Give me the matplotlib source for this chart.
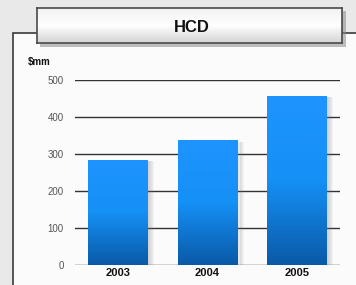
import matplotlib.pyplot as plt
import numpy as np
from matplotlib.patches import Rectangle
from matplotlib.colors import LinearSegmentedColormap

plt.rcParams["font.family"] = ["Liberation Sans", "DejaVu Sans"]

# data
years = ["2003", "2004", "2005"]
values = [285, 337, 458]
yticks = [0, 100, 200, 300, 400, 500]
title = "HCD"
unit = "$mm"

W, H = 356, 285
fig = plt.figure(figsize=(W / 100, H / 100), dpi=100)
fig.patch.set_facecolor("#e9e9e9")


def px(x, y):
    return x / W, 1 - y / H


# outer panel behind everything
panel = Rectangle(px(13, 290), (360 - 13) / W, (290 - 33) / H,
                  transform=fig.transFigure, facecolor="#fbfbfb",
                  edgecolor="#3a3a3a", linewidth=1.2, zorder=-2)
fig.patches.append(panel)

# title box shadow
shadow = Rectangle(px(40, 47), (346 - 40) / W, (47 - 11) / H,
                   transform=fig.transFigure, facecolor="#8a8a8a",
                   edgecolor="none", alpha=0.55, zorder=-1)
fig.patches.append(shadow)

tax = fig.add_axes([37 / W, 1 - 43 / H, (342 - 37) / W, (43 - 8) / H])
grad = np.linspace(1, 0, 50).reshape(-1, 1)
tax.imshow(grad, aspect="auto", cmap=LinearSegmentedColormap.from_list(
    "t", ["#d4d4d4", "#ffffff", "#f2f2f2"]), extent=[0, 1, 0, 1])
tax.set_xticks([])
tax.set_yticks([])
for s in tax.spines.values():
    s.set_color("#4a4a4a")
    s.set_linewidth(1.2)
tax.text(0.508, 0.45, title, ha="center", va="center", fontsize=12,
         fontweight="bold", color="#111111", transform=tax.transAxes)

ax = fig.add_axes([75 / W, 1 - 265 / H, (340 - 75) / W, 185 / H])
ax.set_facecolor("none")
x = np.arange(len(years))
ax.yaxis.grid(True, color="#333333", linewidth=1.0)
ax.set_axisbelow(True)
for s in ax.spines.values():
    s.set_visible(False)
ax.set_yticks(yticks)
ax.tick_params(axis="y", length=0, labelsize=7, labelcolor="#555555", pad=8)
ax.tick_params(axis="x", length=0, pad=2)
ax.set_xticks(x)
ax.set_xticklabels(years, fontsize=8, fontweight="bold", color="#111111")

cmap = LinearSegmentedColormap.from_list("b", ["#0a5aa8", "#1590f5", "#1e94ff"])
bw = 0.67
for xi, v in zip(x, values):
    # soft shadow on the right
    for k in range(6):
        ax.add_patch(Rectangle((xi + bw / 2 + k * 0.012 - 0.01, 0), 0.02, v - 4,
                               facecolor="#777777", alpha=0.18 - k * 0.025,
                               edgecolor="none", zorder=2))
    bar = ax.bar(xi, v, width=bw, color="#1590f5", zorder=3)[0]
    img = ax.imshow(np.linspace(0, 1, 100).reshape(-1, 1), cmap=cmap,
                    aspect="auto", origin="lower",
                    extent=[xi - bw / 2, xi + bw / 2, 0, v], zorder=4)
    img.set_clip_path(bar)
ax.set_xlim(-0.48, 2.48)
ax.set_ylim(0, 500)

fig.text(28 / W, 1 - 62 / H, unit, fontsize=7, fontweight="bold",
         color="#111111", ha="left", va="center")

fig.savefig("out.png", dpi=100)
